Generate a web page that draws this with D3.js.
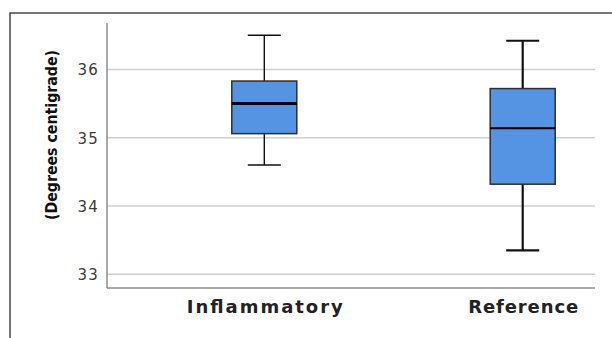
<!DOCTYPE html>
<html>
<head>
<meta charset="utf-8">
<script src="https://cdn.jsdelivr.net/npm/d3@7"></script>
<style>
  html, body { margin: 0; padding: 0; background: #fff; }
  svg { display: block; }
</style>
</head>
<body>
<svg id="chart" width="612" height="338"></svg>
<script>
const categories = ["Inflammatory", "Reference"];
const whiskerLow = [34.60, 33.35];
const q1Values = [35.06, 34.32];
const medians = [35.50, 35.14];
const q3Values = [35.83, 35.72];
const whiskerHigh = [36.50, 36.42];
const yTicks = [33, 34, 35, 36];
const yTitle = "(Degrees centigrade)";

const svg = d3.select("#chart");
const W = 612, H = 338;
const plot = { left: 107, right: 595, top: 23, bottom: 288 };

// outer frame (left and top edges visible)
svg.append("path")
  .attr("d", `M10,${H} L10,13 L${W},13`)
  .attr("fill", "none").attr("stroke", "#4a4a4a").attr("stroke-width", 1.5);

const y = d3.scaleLinear().domain([32.8, 36.68]).range([plot.bottom, plot.top]);
const x = d3.scalePoint().domain(categories).range([264.3, 522.7]);

// gridlines
svg.append("g").selectAll("line").data(yTicks).join("line")
  .attr("x1", plot.left).attr("x2", plot.right)
  .attr("y1", d => y(d)).attr("y2", d => y(d))
  .attr("stroke", "#cfcfcf").attr("stroke-width", 1.5);

// y axis via d3.axisLeft
const yAxis = svg.append("g").attr("transform", `translate(${plot.left},0)`)
  .call(d3.axisLeft(y).tickValues(yTicks).tickSize(0).tickPadding(8).tickFormat(d3.format("d")));
yAxis.select(".domain").remove();
yAxis.selectAll("text")
  .attr("font-family", "DejaVu Sans, sans-serif").attr("font-size", 15)
  .attr("letter-spacing", 1.2)
  .attr("fill", "#3a3a3a").attr("dy", "0.36em");

// axis lines
svg.append("line").attr("x1", plot.left).attr("x2", plot.left)
  .attr("y1", plot.top).attr("y2", plot.bottom)
  .attr("stroke", "#8c8c8c").attr("stroke-width", 1.5);
svg.append("line").attr("x1", plot.left).attr("x2", plot.right)
  .attr("y1", plot.bottom).attr("y2", plot.bottom)
  .attr("stroke", "#8c8c8c").attr("stroke-width", 1.5);

// x axis labels via d3.axisBottom
const xAxis = svg.append("g").attr("transform", `translate(0,${plot.bottom})`)
  .call(d3.axisBottom(x).tickSize(0).tickPadding(12));
xAxis.select(".domain").remove();
const labelWidths = { "Inflammatory": 156, "Reference": 110 };
xAxis.selectAll("text")
  .attr("font-family", "DejaVu Sans, sans-serif").attr("font-size", 18)
  .attr("font-weight", "bold").attr("fill", "#222")
  .attr("textLength", d => labelWidths[d]).attr("lengthAdjust", "spacing");

// y title
svg.append("text")
  .attr("transform", `translate(57,135) rotate(-90)`)
  .attr("text-anchor", "middle")
  .attr("font-family", "DejaVu Sans Condensed, DejaVu Sans, sans-serif")
  .attr("font-weight", "bold").attr("font-size", 15).attr("fill", "#111")
  .attr("textLength", 170).attr("lengthAdjust", "spacingAndGlyphs")
  .text(yTitle);

// boxes
const data = categories.map((c, i) => ({
  cat: c, lo: whiskerLow[i], q1: q1Values[i], med: medians[i], q3: q3Values[i], hi: whiskerHigh[i], i
}));
const boxW = 65, capW = 33;
const whiskerStroke = [1.4, 2.2];
const medStroke = [3, 2];

const g = svg.append("g").selectAll("g").data(data).join("g");
// whisker vertical lines
g.append("line")
  .attr("x1", d => x(d.cat)).attr("x2", d => x(d.cat))
  .attr("y1", d => y(d.hi)).attr("y2", d => y(d.q3))
  .attr("stroke", "#111").attr("stroke-width", d => whiskerStroke[d.i]);
g.append("line")
  .attr("x1", d => x(d.cat)).attr("x2", d => x(d.cat))
  .attr("y1", d => y(d.q1)).attr("y2", d => y(d.lo))
  .attr("stroke", "#111").attr("stroke-width", d => whiskerStroke[d.i]);
// caps
g.append("line")
  .attr("x1", d => x(d.cat) - capW / 2).attr("x2", d => x(d.cat) + capW / 2)
  .attr("y1", d => y(d.hi)).attr("y2", d => y(d.hi))
  .attr("stroke", "#111").attr("stroke-width", d => whiskerStroke[d.i]);
g.append("line")
  .attr("x1", d => x(d.cat) - capW / 2).attr("x2", d => x(d.cat) + capW / 2)
  .attr("y1", d => y(d.lo)).attr("y2", d => y(d.lo))
  .attr("stroke", "#111").attr("stroke-width", d => whiskerStroke[d.i]);
// box
g.append("rect")
  .attr("x", d => x(d.cat) - boxW / 2).attr("width", boxW)
  .attr("y", d => y(d.q3)).attr("height", d => y(d.q1) - y(d.q3))
  .attr("fill", "#5594e2").attr("stroke", "#2e2e2e").attr("stroke-width", 1.5);
// median
g.append("line")
  .attr("x1", d => x(d.cat) - boxW / 2).attr("x2", d => x(d.cat) + boxW / 2)
  .attr("y1", d => y(d.med)).attr("y2", d => y(d.med))
  .attr("stroke", "#000").attr("stroke-width", d => medStroke[d.i]);
</script>
</body>
</html>
